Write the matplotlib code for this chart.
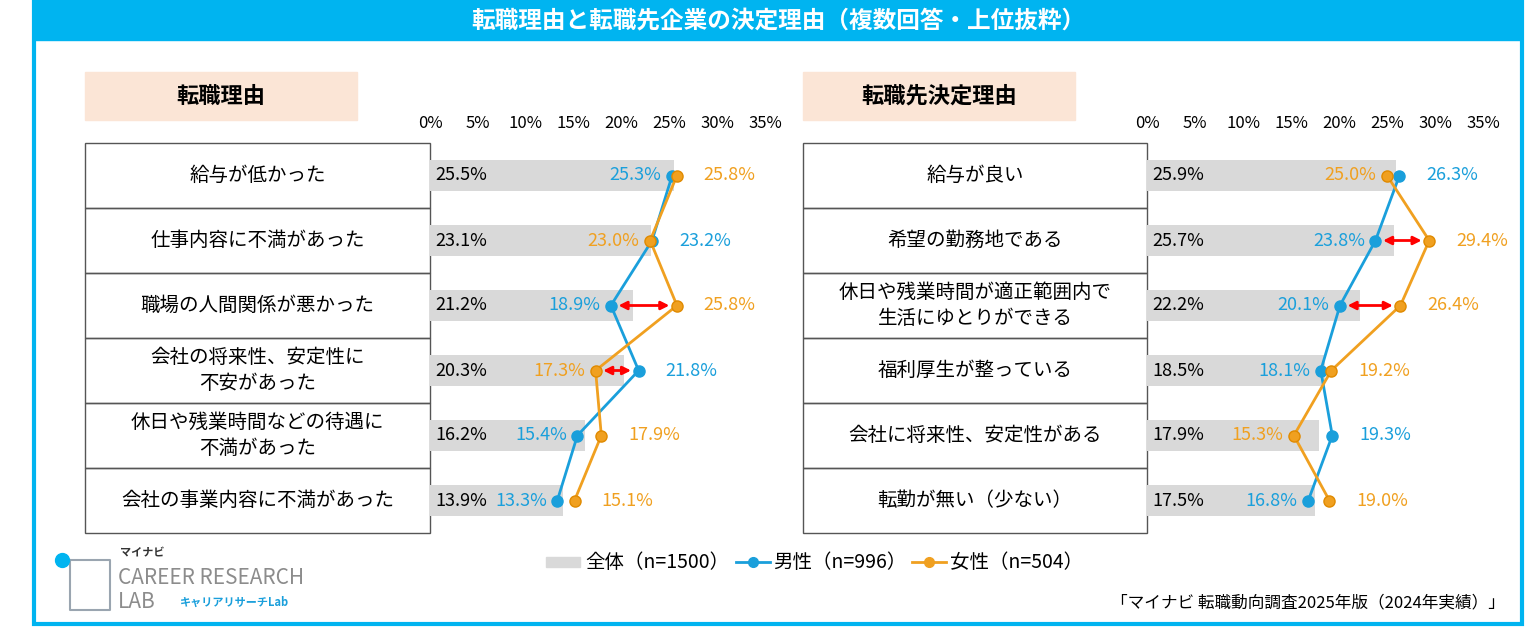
import matplotlib.pyplot as plt
from matplotlib.patches import Rectangle

plt.rcParams["font.family"] = "Noto Sans CJK JP"

W, H = 1536, 638
CYAN = "#00B4F0"
BLUE = "#1A9FDB"
ORANGE = "#F0A020"
GRAY = "#D9D9D9"
PEACH = "#FBE5D6"

left_labels = ["給与が低かった", "仕事内容に不満があった", "職場の人間関係が悪かった",
               "会社の将来性、安定性に\n不安があった", "休日や残業時間などの待遇に\n不満があった",
               "会社の事業内容に不満があった"]
left_all = [25.5, 23.1, 21.2, 20.3, 16.2, 13.9]
left_male = [25.3, 23.2, 18.9, 21.8, 15.4, 13.3]
left_female = [25.8, 23.0, 25.8, 17.3, 17.9, 15.1]
left_arrows = [2, 3]

right_labels = ["給与が良い", "希望の勤務地である", "休日や残業時間が適正範囲内で\n生活にゆとりができる",
                "福利厚生が整っている", "会社に将来性、安定性がある", "転勤が無い（少ない）"]
right_all = [25.9, 25.7, 22.2, 18.5, 17.9, 17.5]
right_male = [26.3, 23.8, 20.1, 18.1, 19.3, 16.8]
right_female = [25.0, 29.4, 26.4, 19.2, 15.3, 19.0]
right_arrows = [1, 2]

ticks = [0, 5, 10, 15, 20, 25, 30, 35]

fig = plt.figure(figsize=(W / 100, H / 100), dpi=100)
bg = fig.add_axes([0, 0, 1, 1])
bg.set_xlim(0, W)
bg.set_ylim(H, 0)
bg.axis("off")

# frame + title bar
bg.add_patch(Rectangle((34, 2), 1488, 622, fill=False, ec=CYAN, lw=3))
bg.add_patch(Rectangle((34, 2), 1488, 38, color=CYAN))
bg.text(778, 21, "転職理由と転職先企業の決定理由（複数回答・上位抜粋）", color="white",
        fontsize=17, fontweight="bold", ha="center", va="center")

ROW_TOP, ROW_H = 143, 65


def panel(x0, xs, x1, title, labels, v_all, v_m, v_f, arrows):
    bg.add_patch(Rectangle((x0, 72), 272, 48, color=PEACH))
    bg.text(x0 + 136, 96, title, fontsize=16, fontweight="bold", ha="center", va="center")
    for i, lab in enumerate(labels):
        y = ROW_TOP + i * ROW_H
        bg.add_patch(Rectangle((x0, y), xs - x0, ROW_H, fill=False, ec="#555555", lw=1))
        bg.text((x0 + xs) / 2, y + ROW_H / 2, lab, fontsize=14, ha="center", va="center",
                linespacing=1.3)
    ax = fig.add_axes([xs / W, 1 - (ROW_TOP + 6 * ROW_H) / H, (x1 - xs) / W, 6 * ROW_H / H])
    ax.set_xlim(0, 35)
    ax.set_ylim(6, 0)
    ax.patch.set_alpha(0)
    for s in ax.spines.values():
        s.set_visible(False)
    ax.xaxis.tick_top()
    ax.set_xticks(ticks)
    ax.set_xticklabels([f"{t}%" for t in ticks], fontsize=12)
    ax.tick_params(length=0, pad=8)
    ax.set_yticks([])
    ys = [i + 0.5 for i in range(6)]
    ax.barh(ys, v_all, height=0.48, color=GRAY, zorder=1)
    ax.plot(v_m, ys, color=BLUE, lw=2, marker="o", ms=8, mfc=BLUE, mec=BLUE, zorder=3)
    ax.plot(v_f, ys, color=ORANGE, lw=2, marker="o", ms=8, mfc=ORANGE, mec="#E08A00", zorder=3)
    for i, y in enumerate(ys):
        ax.text(0.6, y, f"{v_all[i]}%", fontsize=13, va="center", ha="left")
        m, f = v_m[i], v_f[i]
        for v, c, other in [(m, BLUE, f), (f, ORANGE, m)]:
            if v <= other:
                ax.text(v - 1.1, y, f"{v}%", color=c, fontsize=13, va="center", ha="right")
            else:
                ax.text(v + 2.8, y, f"{v}%", color=c, fontsize=13, va="center", ha="left")
        if i in arrows:
            ax.annotate("", xy=(max(m, f) - 0.5, y), xytext=(min(m, f) + 0.5, y),
                        arrowprops=dict(arrowstyle="<|-|>", color="red", lw=2,
                                        mutation_scale=12), zorder=4)


panel(85, 430, 765, "転職理由", left_labels, left_all, left_male, left_female, left_arrows)
panel(803, 1147, 1483, "転職先決定理由", right_labels, right_all, right_male, right_female,
      right_arrows)

# legend
ly = 562
bg.add_patch(Rectangle((546, ly - 5), 34, 10, color=GRAY))
bg.text(585, ly, "全体（n=1500）", fontsize=14, va="center")
bg.plot([736, 770], [ly, ly], color=BLUE, lw=2)
bg.plot([753], [ly], "o", color=BLUE, ms=7)
bg.text(773, ly, "男性（n=996）", fontsize=14, va="center")
bg.plot([912, 946], [ly, ly], color=ORANGE, lw=2)
bg.plot([929], [ly], "o", color=ORANGE, ms=7)
bg.text(950, ly, "女性（n=504）", fontsize=14, va="center")

# logo
bg.text(120, 553, "マイナビ", fontsize=8, fontweight="bold", color="#333333", va="center")
bg.text(118, 578, "CAREER RESEARCH", fontsize=15, color="#8C8C8C", va="center")
bg.text(118, 602, "LAB", fontsize=15, color="#8C8C8C", va="center")
bg.text(180, 602, "キャリアリサーチLab", fontsize=8, fontweight="bold", color=BLUE, va="center")
bg.plot([70, 110, 110, 70, 70], [560, 560, 610, 610, 560], color="#9AA5B0", lw=1.5)
bg.plot([62], [560], "o", color=CYAN, ms=10)

bg.text(1505, 603, "「マイナビ 転職動向調査2025年版（2024年実績）」", fontsize=12,
        ha="right", va="center")

fig.savefig("out.png", dpi=100)
